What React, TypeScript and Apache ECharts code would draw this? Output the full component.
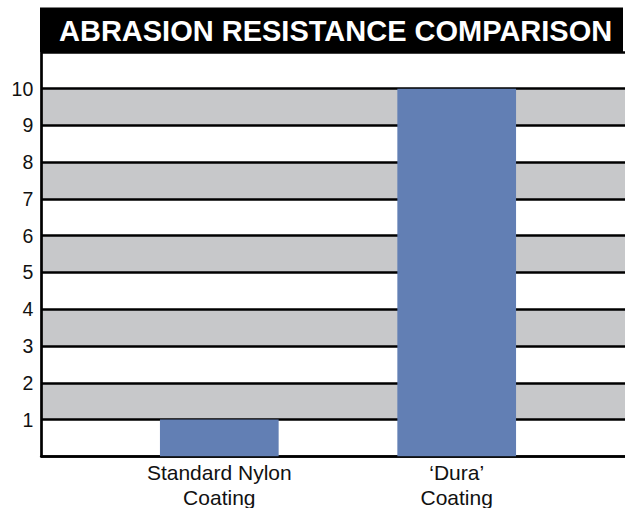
import React, { useEffect, useRef } from "react";
import * as echarts from "echarts";

const categories = ["", "Standard Nylon\nCoating", "", "\u2018Dura\u2019\nCoating", ""];
const values: (number | null)[] = [null, 1, null, 10, null];
const titleText = "ABRASION RESISTANCE COMPARISON";
const yMin = 0;
const yMax = 11;
const yInterval = 1;

const FONT = "'Liberation Sans', Arial, Helvetica, sans-serif";

export default function App() {
  const ref = useRef<HTMLDivElement>(null);
  useEffect(() => {
    if (!ref.current) return;
    const chart = echarts.init(ref.current, null, { renderer: "svg" });
    chart.setOption({
      animation: false,
      backgroundColor: "#ffffff",
      grid: {
        left: 41.25,
        top: 51.9,
        width: 593.5,
        height: 404.4,
        containLabel: false,
        outerBoundsMode: "none",
      },
      xAxis: {
        type: "category",
        data: categories,
        axisLine: { show: true, lineStyle: { color: "#000", width: 2.7 } },
        axisTick: { show: false },
        axisLabel: {
          interval: 0,
          color: "#111",
          fontFamily: FONT,
          fontSize: 21,
          lineHeight: 25.5,
          margin: 3,
        },
        splitLine: { show: false },
      },
      yAxis: {
        type: "value",
        min: yMin,
        max: yMax,
        interval: yInterval,
        axisLine: { show: true, lineStyle: { color: "#000", width: 2.7 } },
        axisTick: { show: false },
        axisLabel: {
          color: "#111",
          fontFamily: FONT,
          fontSize: 19.5,
          margin: 8,
          padding: [0, 0, 5, 0],
          formatter: (v: number) => (v >= 1 && v <= 10 ? String(v) : ""),
        },
        splitLine: { show: true, lineStyle: { color: "#000", width: 2.6 } },
        splitArea: { show: true, areaStyle: { color: ["#ffffff", "#c7c8ca"] } },
      },
      series: [
        {
          type: "bar",
          data: values,
          barWidth: "100%",
          itemStyle: { color: "#627fb4" },
          z: 3,
        },
      ],
      graphic: [
        {
          type: "rect",
          shape: { x: 40, y: 7.5, width: 583, height: 44.5 },
          style: { fill: "#000" },
          z: 10,
        },
        {
          type: "text",
          x: 59,
          y: 30.9,
          style: {
            text: titleText,
            fill: "#fff",
            font: `bold 29px ${FONT}`,
            textVerticalAlign: "middle",
            verticalAlign: "middle",
          },
          z: 11,
        },
      ],
    });
    return () => chart.dispose();
  }, []);
  return (
    <div
      ref={ref}
      style={{ position: "fixed", left: 0, top: 0, width: 625, height: 508 }}
    />
  );
}
